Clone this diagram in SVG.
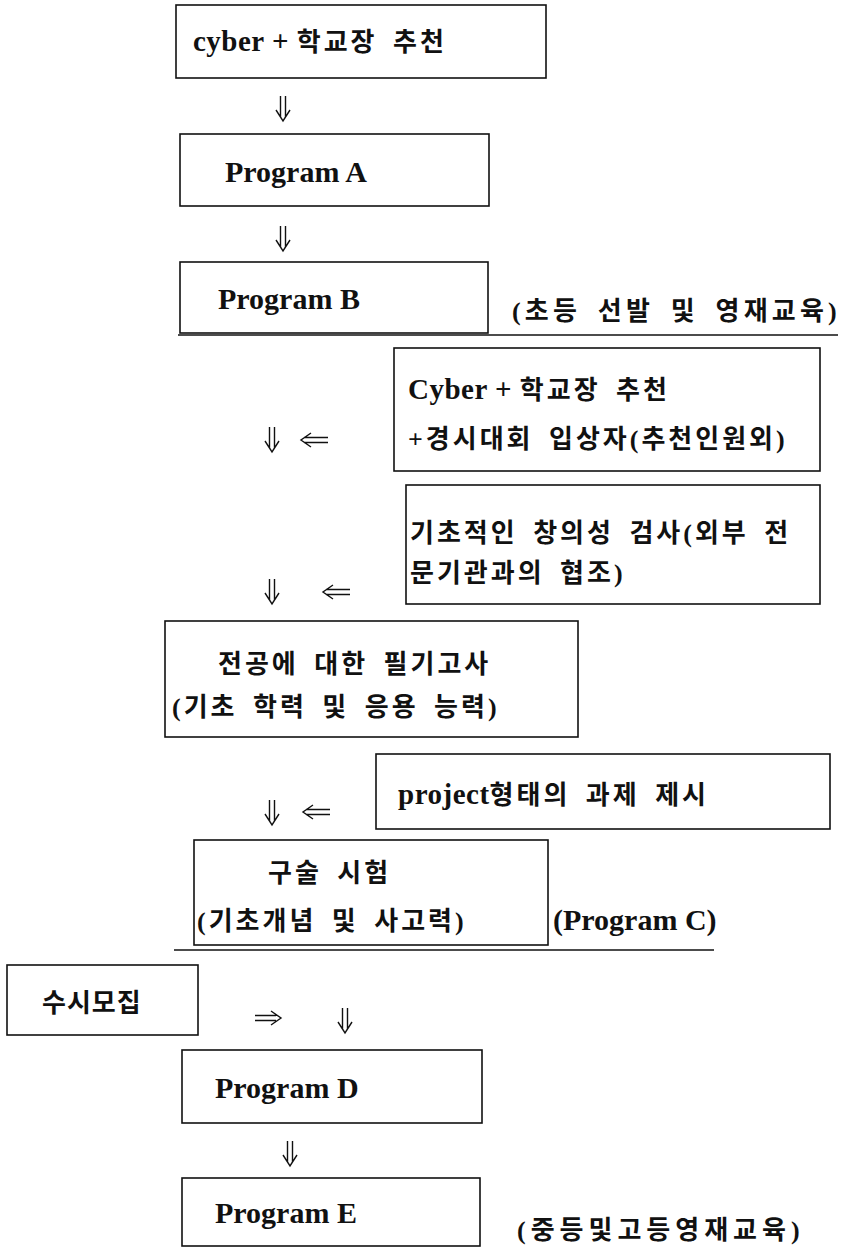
<svg xmlns="http://www.w3.org/2000/svg" width="841" height="1251" viewBox="0 0 841 1251">
<defs>
<style>
.box{fill:#fff;stroke:#111;stroke-width:1.6}
.t{font-family:"Liberation Serif","Noto Sans CJK KR",serif;font-weight:bold;font-size:30px;fill:#111}
.k{font-family:"Liberation Serif","Noto Sans CJK KR",serif;font-weight:bold;font-size:26px;letter-spacing:3px;word-spacing:6px;fill:#111}
.l{font-size:29px;letter-spacing:0.5px;word-spacing:0}
.arr{fill:none;stroke:#111;stroke-width:1.4}
.sep{stroke:#111;stroke-width:1.6}
</style>
</defs>
<rect width="841" height="1251" fill="#fff"/>
<g id="connectors">
<path class="arr" d="M280.5,96V117M285.5,96V117M276,110L283,121L290,110"/>
<path class="arr" d="M280.5,226V247M285.5,226V247M276,240L283,251L290,240"/>
<path class="arr" d="M269.5,427V448M274.5,427V448M265,441L272,452L279,441"/>
<path class="arr" d="M269.5,579V600M274.5,579V600M265,593L272,604L279,593"/>
<path class="arr" d="M269.5,800V821M274.5,800V821M265,814L272,825L279,814"/>
<path class="arr" d="M342.5,1008V1029M347.5,1008V1029M338,1022L345,1033L352,1022"/>
<path class="arr" d="M287.5,1141V1162M292.5,1141V1162M283,1155L290,1166L297,1155"/>
<path class="arr" d="M304,437.5H328M304,442.5H328M311,433L301,440L311,447"/>
<path class="arr" d="M326,589.5H350M326,594.5H350M333,585L323,592L333,599"/>
<path class="arr" d="M306,809.5H330M306,814.5H330M313,805L303,812L313,819"/>
<path class="arr" d="M255,1015.5H276M255,1020.5H276M271,1011L281,1018L271,1025"/>
<line class="sep" x1="178" y1="335" x2="838" y2="335"/>
<line class="sep" x1="174" y1="950" x2="714" y2="950"/>
</g>
<g id="n1"><rect class="box" x="176" y="5" width="370" height="73"/><text class="k" x="193" y="51"><tspan class="l">cyber + </tspan>학교장 추천</text></g>
<g id="nA"><rect class="box" x="180" y="134" width="309" height="72"/><text class="t" x="225" y="182">Program A</text></g>
<g id="nB"><rect class="box" x="180" y="262" width="308" height="71"/><text class="t" x="218" y="309">Program B</text></g>
<g id="lab1"><text class="k" x="512" y="320" style="letter-spacing:4.2px">(초등 선발 및 영재교육)</text></g>
<g id="nCyber"><rect class="box" x="394" y="348" width="426" height="123"/><text class="k" x="408" y="399"><tspan class="l">Cyber + </tspan>학교장 추천</text><text class="k" x="408" y="448">+경시대회 입상자(추천인원외)</text></g>
<g id="nCre"><rect class="box" x="406" y="485" width="414" height="119"/><text class="k" x="410" y="542">기초적인 창의성 검사(외부 전</text><text class="k" x="410" y="582">문기관과의 협조)</text></g>
<g id="nWrit"><rect class="box" x="165" y="621" width="413" height="116"/><text class="k" x="218" y="673">전공에 대한 필기고사</text><text class="k" x="172" y="716">(기초 학력 및 응용 능력)</text></g>
<g id="nProj"><rect class="box" x="376" y="754" width="454" height="75"/><text class="k" x="398" y="804"><tspan class="l">project</tspan>형태의 과제 제시</text></g>
<g id="nOral"><rect class="box" x="194" y="840" width="354" height="105"/><text class="k" x="268" y="882">구술 시험</text><text class="k" x="197" y="930">(기초개념 및 사고력)</text></g>
<g id="lab2"><text class="t" x="553" y="930">(Program C)</text></g>
<g id="nSusi"><rect class="box" x="7" y="965" width="191" height="70"/><text class="k" x="42" y="1012" style="letter-spacing:1px">수시모집</text></g>
<g id="nD"><rect class="box" x="182" y="1050" width="300" height="73"/><text class="t" x="215" y="1098">Program D</text></g>
<g id="nE"><rect class="box" x="182" y="1178" width="298" height="68"/><text class="t" x="215" y="1223">Program E</text></g>
<g id="lab3"><text class="k" x="517" y="1239" style="letter-spacing:5px">(중등및고등영재교육)</text></g>
</svg>
